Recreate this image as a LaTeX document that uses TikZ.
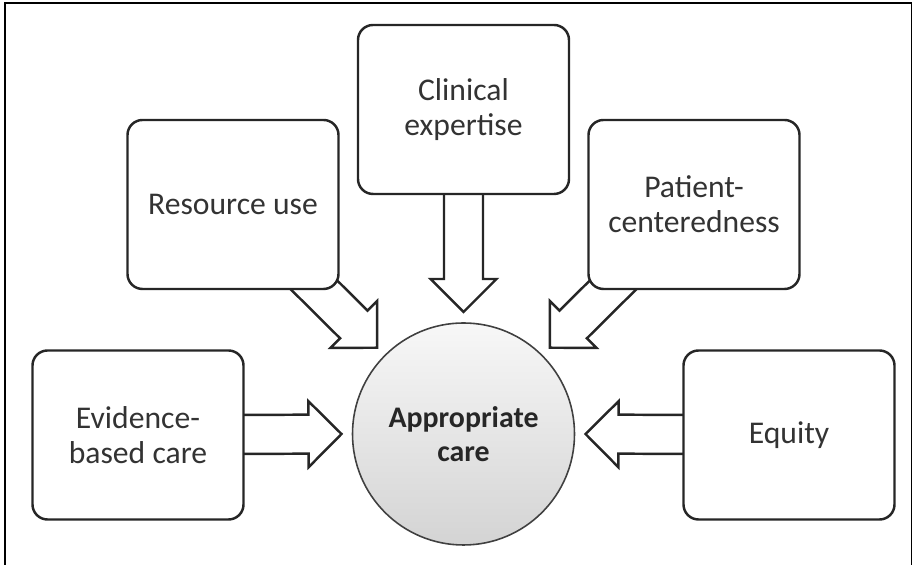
\documentclass[tikz,border=0pt]{standalone}
\usepackage{fontspec}
\setmainfont{Carlito}
\usetikzlibrary{calc,backgrounds}

% fat outlined arrow from #1 to the tip #2
\newcommand{\blockarrow}[2]{%
  \path ($(#2)!0.66cm!(#1)$) coordinate (hb);
  \draw[fatarrow] ($(#1)!0.39cm!90:(#2)$) -- ($(hb)!0.39cm!90:(#2)$)
    -- ($(hb)!0.66cm!90:(#2)$) -- (#2) -- ($(hb)!0.66cm!-90:(#2)$)
    -- ($(hb)!0.39cm!-90:(#2)$) -- ($(#1)!0.39cm!-90:(#2)$) -- cycle;
}

\begin{document}
\begin{tikzpicture}[
    box/.style={draw=black!85, line width=1.4pt, rounded corners=0.3cm, fill=white,
      minimum width=4.22cm, minimum height=3.38cm, align=center,
      text=black!80, font=\fontsize{18}{20}\selectfont},
    fatarrow/.style={draw=black!85, line width=1.4pt, fill=white, line join=miter}]
\useasboundingbox (0,0) rectangle (18.3,11.3);
\draw[line width=1pt] (0.1,0) -- (0.1,11.24) -- (18.23,11.24) -- (18.23,0);

\node[circle, draw=black!75, line width=0.9pt, minimum size=4.44cm, outer sep=0.22cm,
      top color=black!3, bottom color=black!17, align=center, text=black!85,
      font=\fontsize{17}{19.5}\selectfont\bfseries] (care) at (9.27,2.62) {Appropriate\\care};

\node[box] (clin) at (9.27,9.11) {Clinical\\expertise};
\node[box] (res) at (4.66,7.21) {Resource use};
\node[box] (pat) at (13.88,7.21) {Patient-\\centeredness};
\node[box] (evid) at (2.76,2.6) {Evidence-\\based care};
\node[box] (equi) at (15.78,2.6) {Equity};

\begin{scope}[on background layer]
\blockarrow{clin.center}{care.north}
\blockarrow{res.center}{care.north west}
\blockarrow{pat.center}{care.north east}
\blockarrow{evid.center}{care.west}
\blockarrow{equi.center}{care.east}
\end{scope}
\end{tikzpicture}
\end{document}
